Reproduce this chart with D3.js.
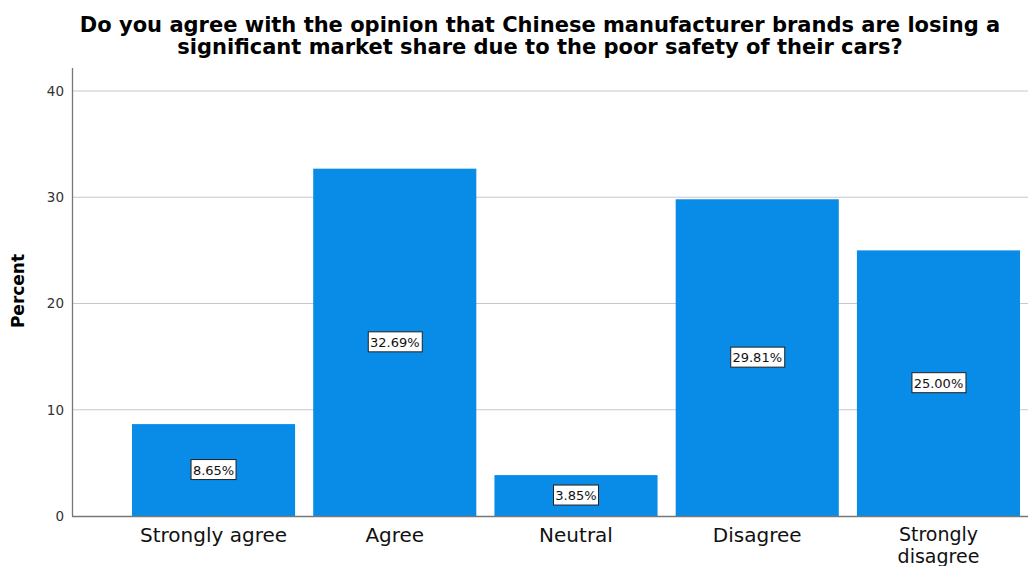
<!DOCTYPE html>
<html><head><meta charset="utf-8">
<script src="https://cdn.jsdelivr.net/npm/d3@7"></script>
<style>body{margin:0;background:#fff}svg{display:block}</style>
</head><body>
<svg id="c" width="1028" height="566"></svg>
<script>
const categories = ["Strongly agree","Agree","Neutral","Disagree","Strongly disagree"];
const values = [8.65, 32.69, 3.85, 29.81, 25.00];
const yTicks = [0,10,20,30,40];
const titleLines = ["Do you agree with the opinion that Chinese manufacturer brands are losing a","significant market share due to the poor safety of their cars?"];

const svg = d3.select("#c");
const W = 1028, H = 566;
const y = d3.scaleLinear().domain([0,40]).range([516, 91]);
const x = d3.scaleBand().domain(categories).range([72,1080]).paddingInner(0.1).paddingOuter(0.331);
const font = "'DejaVu Sans', sans-serif";

// gridlines
svg.append("g").selectAll("line").data(yTicks.filter(d=>d>0)).join("line")
  .attr("x1",72).attr("x2",W).attr("y1",d=>y(d)).attr("y2",d=>y(d))
  .attr("stroke","#c8c8c8").attr("stroke-width",1.2);

// bars
svg.append("g").selectAll("rect").data(values).join("rect")
  .attr("x",(d,i)=>x(categories[i])).attr("width",x.bandwidth())
  .attr("y",d=>y(d)).attr("height",d=>y(0)-y(d))
  .attr("fill","#088ce8");

// y axis
const ya = d3.axisLeft(y).tickValues(yTicks).tickSize(0).tickPadding(8);
const gy = svg.append("g").attr("transform","translate(72,0)").call(ya);
gy.select(".domain").remove();
gy.selectAll("text").attr("font-family",font).attr("font-size",13.5).attr("fill","#333");
svg.append("line").attr("x1",72.5).attr("x2",72.5).attr("y1",68).attr("y2",516.5).attr("stroke","#777").attr("stroke-width",1.3);
svg.append("line").attr("x1",72).attr("x2",W).attr("y1",516.5).attr("y2",516.5).attr("stroke","#777").attr("stroke-width",1.3);

// x axis labels
const xa = d3.axisBottom(x).tickSize(0).tickPadding(12);
const gx = svg.append("g").attr("transform","translate(0,516)").call(xa);
gx.select(".domain").remove();
gx.selectAll("text").attr("font-family",font).attr("font-size",20).attr("fill","#111")
  .each(function(d){
    if (d === "Strongly disagree") {
      const t = d3.select(this); t.text("Strongly").attr("y",12).attr("font-size",19);
      d3.select(this.parentNode).append("text").attr("fill","#111").attr("y",34).attr("dy","0.71em")
        .attr("font-family",font).attr("font-size",19).text("disagree");
    }
  });

// value labels
const lg = svg.append("g").selectAll("g").data(values).join("g")
  .attr("transform",(d,i)=>`translate(${x(categories[i])+x.bandwidth()/2},${(y(d)+y(0))/2})`);
lg.append("text").attr("text-anchor","middle").attr("dy","0.36em")
  .attr("font-family",font).attr("font-size",13).attr("fill","#111")
  .text(d=>d.toFixed(2)+"%");
lg.each(function(){
  const g = d3.select(this);
  const bb = g.select("text").node().getBBox();
  g.insert("rect","text").attr("x",Math.round(bb.x-2)+0.5).attr("y",-10.5).attr("width",Math.round(bb.width+4)).attr("height",20)
    .attr("fill","#fff").attr("stroke","#222").attr("stroke-width",1);
});

// title
svg.append("text").attr("text-anchor","middle").attr("font-family",font).attr("font-weight","bold")
  .attr("font-size",21).attr("fill","#000")
  .selectAll("tspan").data(titleLines).join("tspan")
  .attr("x",540).attr("y",(d,i)=>32+i*22).text(d=>d);

// y label
svg.append("text").attr("transform","translate(24,291) rotate(-90)").attr("text-anchor","middle")
  .attr("font-family",font).attr("font-weight","bold").attr("font-size",17).attr("fill","#000").text("Percent");
</script>
</body></html>
